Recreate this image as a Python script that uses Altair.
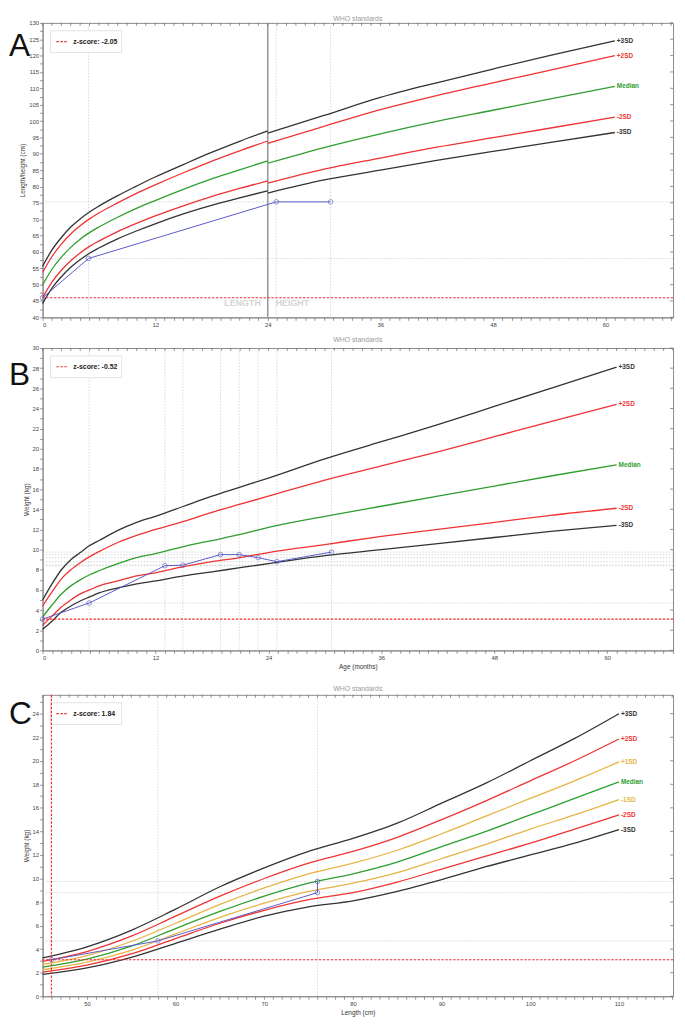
import altair as alt
import pandas as pd

FONT = "Liberation Sans"
BLACK, RED, GREEN, ORANGE, BLUE = "#333333", "#ee3333", "#2f9e2f", "#e6b445", "#5a5ac8"
ZRED = "#f03030"

# ---------------- Panel A : length/height-for-age (cm) ----------------
lenA_age = [0, 1, 2, 3, 4, 5, 6, 8, 10, 12, 15, 18, 21, 24]
lenA_m3 = [44.2, 48.9, 52.4, 55.3, 57.6, 59.6, 61.2, 64.0, 66.4, 68.6, 71.6, 74.2, 76.5, 78.7]
lenA_m2 = [46.1, 50.8, 54.4, 57.3, 59.7, 61.7, 63.3, 66.2, 68.7, 71.0, 74.1, 76.9, 79.4, 81.7]
lenA_med = [49.9, 54.7, 58.4, 61.4, 63.9, 65.9, 67.6, 70.6, 73.3, 75.7, 79.1, 82.3, 85.1, 87.8]
lenA_p2 = [53.7, 58.6, 62.4, 65.5, 68.0, 70.1, 71.9, 75.0, 77.9, 80.5, 84.2, 87.7, 90.9, 93.9]
lenA_p3 = [55.6, 60.6, 64.4, 67.6, 70.1, 72.2, 74.0, 77.2, 80.1, 82.9, 86.7, 90.4, 93.8, 97.0]
hgtA_age = [24, 30, 36, 42, 48, 54, 61]
hgtA_m3 = [78.0, 82.0, 85.0, 88.0, 90.7, 93.4, 96.5]
hgtA_m2 = [81.0, 85.3, 88.7, 92.0, 94.9, 97.8, 101.2]
hgtA_med = [87.1, 91.9, 96.1, 99.9, 103.3, 106.7, 110.6]
hgtA_p2 = [93.2, 98.4, 103.5, 107.8, 111.7, 115.5, 120.0]
hgtA_p3 = [96.3, 101.7, 107.2, 111.7, 115.9, 120.0, 124.5]
ptA_age = [0, 4.9, 24.9, 30.7]
ptA_len = [46.0, 58.0, 75.3, 75.3]
zA_value = 46.0
divider_age = [24]
zA_text = "z-score: -2.05"

# ---------------- Panel B : weight-for-age (kg) ----------------
wB_age = [0, 1, 2, 3, 4, 5, 6, 8, 10, 12, 15, 18, 21, 24, 30, 36, 42, 48, 54, 61]
wB_m3 = [2.1, 2.9, 3.8, 4.4, 4.9, 5.3, 5.7, 6.2, 6.6, 6.9, 7.4, 7.8, 8.2, 8.6, 9.4, 10.0, 10.6, 11.2, 11.8, 12.4]
wB_m2 = [2.5, 3.4, 4.3, 5.0, 5.6, 6.0, 6.4, 6.9, 7.4, 7.7, 8.3, 8.8, 9.2, 9.7, 10.5, 11.3, 12.0, 12.7, 13.4, 14.1]
wB_med = [3.3, 4.5, 5.6, 6.4, 7.0, 7.5, 7.9, 8.6, 9.2, 9.6, 10.3, 10.9, 11.5, 12.2, 13.3, 14.3, 15.3, 16.3, 17.3, 18.4]
wB_p2 = [4.4, 5.8, 7.1, 8.0, 8.7, 9.3, 9.8, 10.7, 11.4, 12.0, 12.8, 13.7, 14.5, 15.3, 16.9, 18.3, 19.7, 21.2, 22.7, 24.4]
wB_p3 = [5.0, 6.6, 8.0, 9.0, 9.7, 10.4, 10.9, 11.9, 12.7, 13.3, 14.3, 15.3, 16.2, 17.1, 19.0, 20.7, 22.4, 24.2, 26.0, 28.1]
ptB_age = [0, 4.95, 13.0, 14.9, 18.9, 20.9, 22.9, 24.9, 30.7]
ptB_wt = [3.1, 4.7, 8.4, 8.45, 9.5, 9.5, 9.2, 8.8, 9.75]
zB_value = 3.1
zB_text = "z-score: -0.52"

# ---------------- Panel C : weight-for-length (kg) ----------------
wC_len = [45, 50, 55, 60, 65, 70, 75, 80, 85, 90, 95, 100, 105, 110]
wC_m3 = [1.85, 2.4, 3.3, 4.5, 5.7, 6.8, 7.6, 8.1, 8.9, 9.9, 11.0, 12.0, 13.0, 14.15]
wC_m2 = [2.05, 2.65, 3.6, 4.9, 6.2, 7.3, 8.2, 8.8, 9.7, 10.8, 11.9, 13.0, 14.2, 15.4]
wC_m1 = [2.25, 2.9, 3.9, 5.3, 6.7, 7.9, 8.9, 9.6, 10.5, 11.7, 12.9, 14.2, 15.4, 16.7]
wC_med = [2.47, 3.15, 4.25, 5.75, 7.2, 8.5, 9.6, 10.4, 11.4, 12.7, 14.0, 15.4, 16.8, 18.2]
wC_p1 = [2.7, 3.45, 4.65, 6.2, 7.8, 9.2, 10.4, 11.3, 12.4, 13.8, 15.3, 16.8, 18.3, 19.9]
wC_p2 = [2.97, 3.8, 5.1, 6.8, 8.5, 10.0, 11.3, 12.3, 13.5, 15.0, 16.6, 18.3, 20.0, 21.85]
wC_p3 = [3.25, 4.2, 5.6, 7.4, 9.3, 10.9, 12.3, 13.4, 14.7, 16.4, 18.1, 20.0, 21.9, 24.0]
ptC_len = [46.0, 58.0, 76.0, 76.0]
ptC_wt = [3.1, 4.7, 8.8, 9.75]
zC_value = 3.1
zC_len = 46.0
zC_text = "z-score: 1.84"

CURVES = ["+3SD", "+2SD", "+1SD", "Median", "-1SD", "-2SD", "-3SD"]
CURVE_COLORS = [BLACK, RED, ORANGE, GREEN, ORANGE, RED, BLACK]
cscale = alt.Scale(domain=CURVES, range=CURVE_COLORS)
TITLE = "WHO standards"


def curves_frame(segments):
    rows = []
    for seg, xs, series in segments:
        for name, ys in series:
            for xv, yv in zip(xs, ys):
                rows.append({"x": xv, "y": yv, "curve": name, "seg": f"{seg}{name}"})
    return pd.DataFrame(rows)


def labels_frame(xs, series):
    return pd.DataFrame([{"x": xs[-1], "y": ys[-1], "curve": n} for n, ys in series])


def panel(cdf, ldf, px, py, hl, vl, zy, zx, xdom, ydom, xvals, xlab, yvals, ylab,
          ytick_right, W, H, letter, letter_y, ztext, ytitle, xtitle, extra=None, title_mark=False):
    X = alt.X("x:Q", scale=alt.Scale(domain=xdom, nice=False, zero=False),
              axis=alt.Axis(values=xvals, labelExpr=xlab, title=xtitle, titlePadding=3))
    Y = alt.Y("y:Q", scale=alt.Scale(domain=ydom, nice=False, zero=False),
              axis=alt.Axis(values=yvals, labelExpr=ylab, title=ytitle, titlePadding=3))
    layers = []
    layers.append(alt.Chart(pd.DataFrame({"y": hl})).mark_rule(
        color="#cfcfcf", strokeWidth=0.8, strokeDash=[1.5, 1.5]).encode(y=Y))
    layers.append(alt.Chart(pd.DataFrame({"x": vl})).mark_rule(
        color="#cfcfcf", strokeWidth=0.8, strokeDash=[1.5, 1.5]).encode(x=X))
    if extra is not None:
        layers.extend(extra(X, Y, H))
    # inward ticks on top and right edges
    layers.append(alt.Chart(pd.DataFrame({"x": xvals})).mark_rule(
        color="#666", strokeWidth=0.7).encode(x=X, y=alt.value(0), y2=alt.value(3)))
    layers.append(alt.Chart(pd.DataFrame({"y": ytick_right})).mark_rule(
        color="#666", strokeWidth=0.7).encode(y=Y, x=alt.value(W - 3), x2=alt.value(W)))
    layers.append(alt.Chart(cdf).mark_line(strokeWidth=1.3, interpolate="monotone").encode(
        x=X, y=Y, color=alt.Color("curve:N", scale=cscale, legend=None), detail="seg:N"))
    layers.append(alt.Chart(ldf).mark_text(
        align="left", dx=2, fontSize=6.5, fontWeight="bold", font=FONT).encode(
        x=X, y=Y, text="curve:N", color=alt.Color("curve:N", scale=cscale, legend=None)))
    # z-score legend box
    lg = pd.DataFrame({"t": [ztext]})
    layers.append(alt.Chart(lg).mark_rect(fill="white", stroke="#dddddd", strokeWidth=0.8).encode(
        x=alt.value(8), x2=alt.value(80), y=alt.value(8), y2=alt.value(30)))
    layers.append(alt.Chart(lg).mark_rule(stroke=ZRED, strokeWidth=1.2, strokeDash=[2.5, 1.5]).encode(
        x=alt.value(14), x2=alt.value(25), y=alt.value(19)))
    layers.append(alt.Chart(lg).mark_text(align="left", baseline="middle", fontSize=7,
                                          fontWeight="bold", font=FONT, color="#222").encode(
        x=alt.value(31), y=alt.value(19.5), text="t:N"))
    # z-score reference lines
    layers.append(alt.Chart(pd.DataFrame({"y": [zy]})).mark_rule(
        stroke=ZRED, strokeWidth=1.1, strokeDash=[2.5, 1.5]).encode(y=Y))
    if zx is not None:
        layers.append(alt.Chart(pd.DataFrame({"x": [zx]})).mark_rule(
            stroke=ZRED, strokeWidth=1.2, strokeDash=[2.5, 1.5]).encode(x=X))
    pdf = pd.DataFrame({"x": px, "y": py, "o": list(range(len(px)))})
    layers.append(alt.Chart(pdf).mark_line(stroke=BLUE, strokeWidth=1).encode(x=X, y=Y, order="o:Q"))
    layers.append(alt.Chart(pdf).mark_point(stroke=BLUE, size=22, filled=False, strokeWidth=0.9).encode(x=X, y=Y))
    layers.append(alt.Chart(pd.DataFrame({"t": [letter]})).mark_text(
        align="left", baseline="middle", fontSize=32, font=FONT, color="#111").encode(
        x=alt.value(-34), y=alt.value(letter_y), text="t:N"))
    if title_mark:
        layers.append(alt.Chart(pd.DataFrame({"t": [TITLE]})).mark_text(
            align="center", baseline="bottom", fontSize=7, font=FONT, color="#9a9a9a").encode(
            x=alt.value(W / 2), y=alt.value(-1), text="t:N"))
        return alt.layer(*layers).properties(width=W, height=H)
    return alt.layer(*layers).properties(
        width=W, height=H,
        title=alt.TitleParams(TITLE, fontSize=7, color="#9a9a9a", fontWeight="normal",
                              font=FONT, offset=2, anchor="middle"))


W = 638

# ---- A
cdfA = curves_frame([
    ("L", lenA_age, [("+3SD", lenA_p3), ("+2SD", lenA_p2), ("Median", lenA_med), ("-2SD", lenA_m2), ("-3SD", lenA_m3)]),
    ("H", hgtA_age, [("+3SD", hgtA_p3), ("+2SD", hgtA_p2), ("Median", hgtA_med), ("-2SD", hgtA_m2), ("-3SD", hgtA_m3)]),
])
ldfA = labels_frame(hgtA_age, [("+3SD", hgtA_p3), ("+2SD", hgtA_p2), ("Median", hgtA_med), ("-2SD", hgtA_m2), ("-3SD", hgtA_m3)])
HA = 298


def extraA(X, Y, H):
    dv = pd.DataFrame({"x": divider_age})
    return [
        alt.Chart(dv).mark_rule(color="#9a9a9a", strokeWidth=1.6).encode(x=X),
        alt.Chart(dv).mark_text(align="right", dx=-7, fontSize=9, fontWeight="bold", font=FONT,
                                color="#d4d4d4", text="LENGTH").encode(x=X, y=alt.value(H - 14)),
        alt.Chart(dv).mark_text(align="left", dx=8, fontSize=9, fontWeight="bold", font=FONT,
                                color="#d4d4d4", text="HEIGHT").encode(x=X, y=alt.value(H - 14)),
    ]


months = list(range(0, 68))
mlab = "datum.value % 12 == 0 ? datum.label : ''"
chartA = panel(cdfA, ldfA, ptA_age, ptA_len, [58.0, 75.3], [4.9, 24.9, 30.7], zA_value, None,
               [0, 67.2], [40, 130], months, mlab,
               [v / 2 for v in range(80, 261, 5)], "datum.value % 5 == 0 ? datum.label : ''",
               list(range(40, 131, 5)), W, HA, "A", 24, zA_text, "Length/height (cm)", None, extraA,
               title_mark=True)

# ---- B
serB = [("+3SD", wB_p3), ("+2SD", wB_p2), ("Median", wB_med), ("-2SD", wB_m2), ("-3SD", wB_m3)]
cdfB = curves_frame([("W", wB_age, serB)])
ldfB = labels_frame(wB_age, serB)
HB = 306
chartB = panel(cdfB, ldfB, ptB_age, ptB_wt, [4.7, 8.4, 8.45, 8.8, 9.2, 9.5, 9.75],
               [4.95, 13.0, 14.9, 18.9, 20.9, 22.9, 24.9, 30.7], zB_value, None,
               [0, 67.0], [0, 30], months, mlab,
               list(range(0, 31)), "datum.value % 2 == 0 ? datum.label : ''",
               list(range(0, 31, 2)), W, HB, "B", 27, zB_text, "Weight (kg)", "Age (months)")

# ---- C
serC = [("+3SD", wC_p3), ("+2SD", wC_p2), ("+1SD", wC_p1), ("Median", wC_med),
        ("-1SD", wC_m1), ("-2SD", wC_m2), ("-3SD", wC_m3)]
cdfC = curves_frame([("C", wC_len, serC)])
ldfC = labels_frame(wC_len, serC)
HC = 305
chartC = panel(cdfC, ldfC, ptC_len, ptC_wt, [4.7, 8.8, 9.75], [58.0, 76.0], zC_value, zC_len,
               [45, 116.1], [0, 25.6], list(range(45, 117)), "datum.value % 10 == 0 ? datum.label : ''",
               list(range(0, 26)), "datum.value % 2 == 0 ? datum.label : ''",
               list(range(0, 25, 2)), W, HC, "C", 20, zC_text, "Weight (kg)", "Length (cm)")

chart = alt.vconcat(alt.vconcat(chartA, chartB, spacing=7), chartC, spacing=14).properties(
    padding={"left": 0, "top": 0, "right": 2, "bottom": 0}
).configure_view(stroke="#8a8a8a", strokeWidth=1).configure_axis(
    labelFont=FONT, labelFontSize=6, labelColor="#444", labelPadding=1,
    tickColor="#666", tickSize=3, tickWidth=0.7, domainColor="#8a8a8a",
    titleFont=FONT, titleFontSize=6.5, titleFontWeight="normal", titleColor="#333", grid=False
)

chart.save("out.html", embed_options={"renderer": "svg", "actions": False})
